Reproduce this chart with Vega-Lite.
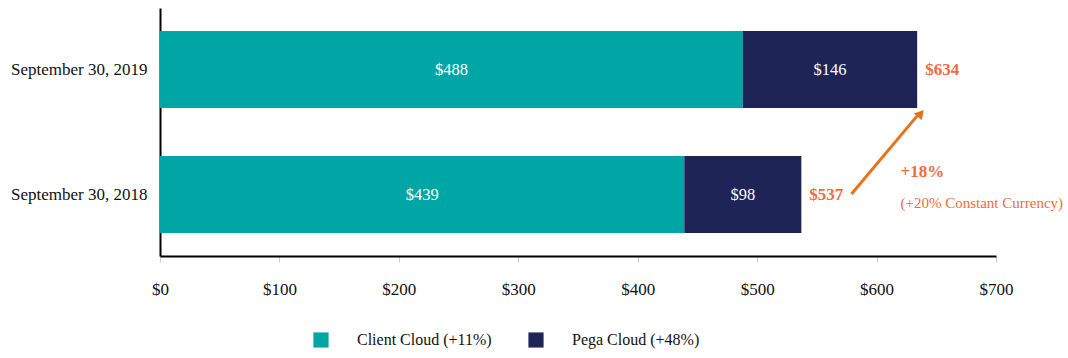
{
  "$schema": "https://vega.github.io/schema/vega-lite/v6.json",
  "width": 836,
  "height": 248,
  "autosize": {"type": "none"},
  "padding": {"left": 160, "top": 8, "right": 72, "bottom": 102},
  "background": "white",
  "config": {
    "view": {"stroke": null},
    "font": "Liberation Serif"
  },
  "datasets": {
    "bars": [
      {"date": "September 30, 2019", "segment": "Client Cloud (+11%)", "start": 0, "end": 488, "label": "$488"},
      {"date": "September 30, 2019", "segment": "Pega Cloud (+48%)", "start": 488, "end": 634, "label": "$146"},
      {"date": "September 30, 2018", "segment": "Client Cloud (+11%)", "start": 0, "end": 439, "label": "$439"},
      {"date": "September 30, 2018", "segment": "Pega Cloud (+48%)", "start": 439, "end": 537, "label": "$98"}
    ],
    "totals": [
      {"date": "September 30, 2019", "total": 634, "label": "$634"},
      {"date": "September 30, 2018", "total": 537, "label": "$537"}
    ],
    "arrow": [
      {"x": 579, "y": 0.25, "x2": 634, "y2": 0.565}
    ],
    "head": [
      {"x": 637, "y": 0.575}
    ],
    "pct": [
      {"x": 620, "y": 0.339, "text": "+18%"}
    ],
    "cc": [
      {"x": 620, "y": 0.214, "text": "(+20% Constant Currency)"}
    ]
  },
  "layer": [
    {
      "encoding": {
        "y": {
          "field": "date", "type": "nominal",
          "sort": ["September 30, 2019", "September 30, 2018"],
          "scale": {"type": "band", "paddingInner": 0.384, "paddingOuter": 0.184},
          "axis": {
            "title": null, "ticks": false, "domainColor": "#000000", "domainWidth": 2,
            "labelFont": "Liberation Serif", "labelFontSize": 17, "labelColor": "#111111",
            "labelPadding": 13
          }
        }
      },
      "layer": [
        {
          "data": {"name": "bars"},
          "mark": {"type": "bar"},
          "encoding": {
            "x": {
              "field": "start", "type": "quantitative",
              "scale": {"domain": [0, 700], "nice": false},
              "axis": {
                "title": null, "values": [0, 100, 200, 300, 400, 500, 600, 700],
                "format": "$,.0f", "grid": false, "labelFlush": false,
                "domainColor": "#000000", "domainWidth": 2,
                "tickColor": "#cccccc", "tickSize": 6, "tickWidth": 1,
                "labelFont": "Liberation Serif", "labelFontSize": 17, "labelColor": "#111111",
                "labelPadding": 19
              }
            },
            "x2": {"field": "end"},
            "color": {
              "field": "segment", "type": "nominal",
              "scale": {"domain": ["Client Cloud (+11%)", "Pega Cloud (+48%)"], "range": ["#00A6A6", "#1E2455"]},
              "legend": {
                "title": null, "orient": "none", "direction": "horizontal",
                "legendX": 153, "legendY": 324,
                "symbolType": "square", "symbolSize": 230, "symbolStrokeWidth": 0,
                "labelFont": "Liberation Serif", "labelFontSize": 16, "labelColor": "#111111",
                "labelOffset": 28, "columnPadding": 36
              }
            }
          }
        },
        {
          "data": {"name": "bars"},
          "mark": {"type": "text", "color": "white", "font": "Liberation Serif", "fontSize": 16.5, "baseline": "middle"},
          "transform": [{"calculate": "(datum.start + datum.end) / 2", "as": "mid"}],
          "encoding": {
            "x": {"field": "mid", "type": "quantitative"},
            "text": {"field": "label"}
          }
        },
        {
          "data": {"name": "totals"},
          "mark": {"type": "text", "color": "#F26B3D", "font": "Liberation Serif", "fontSize": 17, "fontWeight": "bold", "align": "left", "baseline": "middle", "dx": 8},
          "encoding": {
            "x": {"field": "total", "type": "quantitative"},
            "text": {"field": "label"}
          }
        }
      ]
    },
    {
      "encoding": {
        "y": {"type": "quantitative", "scale": {"domain": [0, 1], "nice": false}, "axis": null}
      },
      "layer": [
        {
          "data": {"name": "arrow"},
          "mark": {"type": "rule", "color": "#E8711C", "strokeWidth": 3},
          "encoding": {
            "x": {"field": "x", "type": "quantitative"},
            "x2": {"field": "x2"},
            "y": {"field": "y", "type": "quantitative"},
            "y2": {"field": "y2"}
          }
        },
        {
          "data": {"name": "head"},
          "mark": {"type": "point", "shape": "triangle-up", "filled": true, "color": "#E8711C", "size": 110, "angle": 40, "opacity": 1},
          "encoding": {
            "x": {"field": "x", "type": "quantitative"},
            "y": {"field": "y", "type": "quantitative"}
          }
        },
        {
          "data": {"name": "pct"},
          "mark": {"type": "text", "color": "#F26B3D", "font": "Liberation Serif", "fontSize": 17, "fontWeight": "bold", "align": "left", "baseline": "middle"},
          "encoding": {
            "x": {"field": "x", "type": "quantitative"},
            "y": {"field": "y", "type": "quantitative"},
            "text": {"field": "text"}
          }
        },
        {
          "data": {"name": "cc"},
          "mark": {"type": "text", "color": "#F26B3D", "font": "Liberation Serif", "fontSize": 15, "align": "left", "baseline": "middle"},
          "encoding": {
            "x": {"field": "x", "type": "quantitative"},
            "y": {"field": "y", "type": "quantitative"},
            "text": {"field": "text"}
          }
        }
      ]
    }
  ],
  "resolve": {"scale": {"y": "independent"}}
}
